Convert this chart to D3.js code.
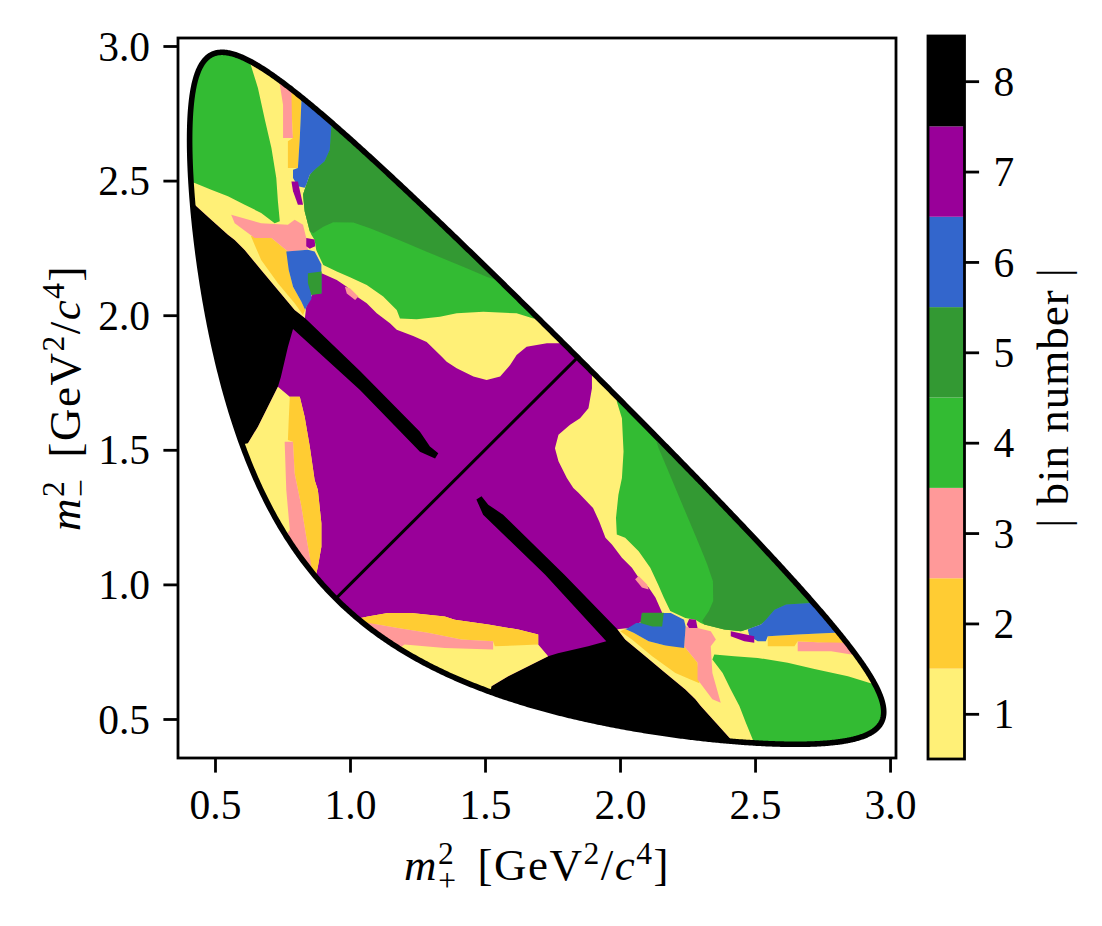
<!DOCTYPE html>
<html lang="en">
<head>
<meta charset="UTF-8">
<title>Dalitz plot binning</title>
<script src="https://d3js.org/d3.v7.min.js"></script>
<style>
  body { margin: 0; background: #fff; }
  text { font-family: "Liberation Serif", "Times New Roman", serif; fill: #000; }
</style>
</head>
<body>
<div id="chart"></div>
<script>
// masses used for the kinematic boundary (GeV/c^2)
const massD = 1.86484, massK = 0.497611, massPi = 0.13957;

// colours of |bin number| 1..8
const binColors = ["#fff077", "#ffcc33", "#ff9999", "#33bb33", "#339933", "#3366cc", "#990099", "#000000"];
const binTicks = [1, 2, 3, 4, 5, 6, 7, 8];
const xTicks = [0.5, 1.0, 1.5, 2.0, 2.5, 3.0];
const yTicks = [0.5, 1.0, 1.5, 2.0, 2.5, 3.0];

// bin regions of the half above the diagonal (m-^2 > m+^2), in GeV^2/c^4.
// the other half is the mirror image. painted in order, later ones on top.
const halfTriangle = [[0, 0], [0, 4], [4, 4]];
const blackRegion = [[0.30, 2.42], [0.425, 2.410], [0.486, 2.355], [0.548, 2.299], [0.573, 2.279], [0.610, 2.242],
  [0.671, 2.168], [0.733, 2.094], [0.795, 2.019], [0.833, 1.990], [1.037, 1.793], [1.259, 1.567], [1.296, 1.512],
  [1.327, 1.487], [1.315, 1.468], [1.259, 1.493], [1.037, 1.722], [0.789, 1.949], [0.770, 1.882], [0.744, 1.770],
  [0.733, 1.734], [0.696, 1.660], [0.659, 1.586], [0.622, 1.524], [0.58, 1.45], [0.30, 1.45]];
const yellowTop = [[2.0, 1.896], [1.778, 1.896], [1.729, 1.896], [1.654, 1.883], [1.617, 1.852], [1.593, 1.815],
  [1.556, 1.772], [1.506, 1.759], [1.457, 1.772], [1.395, 1.803], [1.358, 1.827], [1.340, 1.846], [1.284, 1.900],
  [1.234, 1.923], [1.173, 1.946], [1.148, 1.970], [1.099, 2.007], [1.062, 2.044], [1.025, 2.069], [0.988, 2.106],
  [0.951, 2.131], [0.895, 2.156], [0.857, 2.070], [0.838, 2.032], [0.833, 1.990], [0.795, 2.019], [0.733, 2.094],
  [0.671, 2.168], [0.610, 2.242], [0.573, 2.279], [0.548, 2.299], [0.486, 2.355], [0.425, 2.410], [0.30, 2.42],
  [0.30, 3.2], [2.0, 3.2]];
const yellowLow = [[0.733, 1.734], [0.777, 1.697], [0.814, 1.697], [0.832, 1.623], [0.851, 1.512], [0.869, 1.388],
  [0.881, 1.351], [0.894, 1.227], [0.894, 1.140], [0.881, 1.066], [0.874, 1.035], [0.80, 0.95], [0.50, 0.95],
  [0.50, 1.50], [0.622, 1.524], [0.659, 1.586], [0.696, 1.660]];
const orangeLow = [[0.777, 1.697], [0.814, 1.697], [0.832, 1.623], [0.851, 1.512], [0.869, 1.388], [0.881, 1.351],
  [0.894, 1.227], [0.894, 1.140], [0.881, 1.066], [0.874, 1.035], [0.84, 1.0], [0.851, 1.103], [0.838, 1.177],
  [0.820, 1.289], [0.795, 1.413], [0.789, 1.530], [0.770, 1.536], [0.773, 1.611]];
const pinkLow = [[0.758, 1.530], [0.789, 1.530], [0.795, 1.413], [0.820, 1.289], [0.838, 1.177], [0.851, 1.103],
  [0.859, 1.053], [0.80, 1.05], [0.74, 1.15], [0.777, 1.202], [0.764, 1.351]];
const greenCorner = [[0.333, 3.059], [0.593, 3.059], [0.634, 2.925], [0.659, 2.844], [0.686, 2.720], [0.709, 2.621],
  [0.727, 2.510], [0.733, 2.423], [0.740, 2.349], [0.721, 2.342], [0.671, 2.380], [0.610, 2.410], [0.548, 2.442],
  [0.486, 2.466], [0.425, 2.491], [0.333, 2.520]];
const pinkTop = [[0.726, 2.911], [0.789, 2.881], [0.785, 2.733], [0.789, 2.658], [0.752, 2.658], [0.752, 2.782], [0.740, 2.856]];
const orangeTop = [[0.789, 2.881], [0.826, 2.844], [0.820, 2.795], [0.814, 2.658], [0.807, 2.547], [0.770, 2.547],
  [0.770, 2.646], [0.789, 2.658], [0.785, 2.733], [0.783, 2.833]];
const greenBand = [[0.963, 2.948], [0.931, 2.702], [0.838, 2.485], [0.826, 2.448], [0.832, 2.386], [0.851, 2.312],
  [0.857, 2.299], [0.869, 2.279], [0.875, 2.242], [0.901, 2.186], [0.951, 2.162], [1.0, 2.141], [1.062, 2.112],
  [1.123, 2.069], [1.173, 2.019], [1.185, 1.988], [1.247, 1.985], [1.333, 1.994], [1.395, 2.007], [1.494, 2.013],
  [1.617, 2.007], [1.679, 1.988], [1.80, 2.0], [1.80, 2.95]];
const darkGreen = [[0.931, 2.702], [0.925, 2.615], [0.906, 2.572], [0.869, 2.540], [0.851, 2.522], [0.838, 2.485],
  [0.826, 2.448], [0.832, 2.386], [0.851, 2.312], [0.864, 2.304], [0.901, 2.329], [0.938, 2.345], [1.012, 2.344],
  [1.074, 2.323], [1.136, 2.298], [1.210, 2.267], [1.284, 2.236], [1.358, 2.205], [1.432, 2.174], [1.506, 2.143],
  [1.543, 2.131], [1.60, 2.11], [1.778, 2.120], [1.778, 2.948], [0.963, 2.948]];
const blueTop = [[0.815, 2.844], [0.963, 2.755], [0.931, 2.702], [0.925, 2.615], [0.906, 2.572], [0.869, 2.540],
  [0.851, 2.522], [0.838, 2.485], [0.832, 2.473], [0.807, 2.479], [0.789, 2.510], [0.789, 2.540], [0.807, 2.547],
  [0.814, 2.658], [0.820, 2.795]];
const purpleSpeckTop = [[0.783, 2.497], [0.807, 2.497], [0.826, 2.410], [0.807, 2.410], [0.789, 2.460]];
const orangeMid = [[0.633, 2.294], [0.709, 2.287], [0.770, 2.237], [0.773, 2.168], [0.789, 2.106], [0.820, 2.050],
  [0.834, 2.019], [0.826, 2.001], [0.795, 2.044], [0.733, 2.119], [0.671, 2.205], [0.647, 2.261]];
const pinkMid = [[0.560, 2.373], [0.671, 2.342], [0.770, 2.336], [0.795, 2.355], [0.826, 2.336], [0.838, 2.287],
  [0.844, 2.243], [0.770, 2.237], [0.709, 2.287], [0.647, 2.287], [0.573, 2.342]];
const blueMid = [[0.764, 2.237], [0.844, 2.243], [0.869, 2.237], [0.894, 2.188], [0.894, 2.081], [0.857, 2.077],
  [0.857, 2.060], [0.838, 2.030], [0.834, 2.019], [0.820, 2.050], [0.789, 2.106], [0.773, 2.168]];
const darkGreenBlob = [[0.844, 2.156], [0.895, 2.162], [0.895, 2.081], [0.857, 2.075], [0.844, 2.120]];
const purpleSpeckMid = [[0.838, 2.287], [0.869, 2.281], [0.871, 2.256], [0.851, 2.247], [0.838, 2.256]];
const pinkBlob = [[0.981, 2.106], [1.0, 2.100], [1.031, 2.069], [1.019, 2.056], [0.988, 2.081]];

const layers = [
  { bin: 7, pts: halfTriangle }, { bin: 8, pts: blackRegion }, { bin: 1, pts: yellowTop },
  { bin: 1, pts: yellowLow }, { bin: 2, pts: orangeLow }, { bin: 3, pts: pinkLow },
  { bin: 4, pts: greenCorner }, { bin: 3, pts: pinkTop }, { bin: 2, pts: orangeTop },
  { bin: 4, pts: greenBand }, { bin: 5, pts: darkGreen }, { bin: 6, pts: blueTop },
  { bin: 7, pts: purpleSpeckTop }, { bin: 2, pts: orangeMid }, { bin: 3, pts: pinkMid },
  { bin: 6, pts: blueMid }, { bin: 5, pts: darkGreenBlob }, { bin: 7, pts: purpleSpeckMid },
  { bin: 3, pts: pinkBlob }
];

// kinematic limits of D0 -> KS pi+ pi-
function dalitzEdge(n) {
  const M2 = massD * massD, k2 = massK * massK, p2 = massPi * massPi;
  const sMin = (massK + massPi) ** 2, sMax = (massD - massPi) ** 2;
  const upper = [], lower = [];
  for (let i = 0; i <= n; i++) {
    const s = sMin + (sMax - sMin) * (1 - Math.cos(Math.PI * i / n)) / 2;
    const rs = Math.sqrt(s);
    const eK = (s - p2 + k2) / (2 * rs), ePi = (M2 - s - p2) / (2 * rs);
    const qK = Math.sqrt(Math.max(0, eK * eK - k2)), qPi = Math.sqrt(Math.max(0, ePi * ePi - p2));
    const e = (eK + ePi) ** 2;
    upper.push([s, e - (qK - qPi) ** 2]);
    lower.push([s, e - (qK + qPi) ** 2]);
  }
  return upper.concat(lower.reverse());
}

const W = 1102, H = 926;
const fontSize = 41.5, titleSize = 45, smallSize = 31.5;
const plotL = 178, plotR = 896, plotT = 38, plotB = 758;

const x = d3.scaleLinear().domain([0.363, 3.022]).range([plotL, plotR]);
const y = d3.scaleLinear().domain([0.3551, 3.0297]).range([plotB, plotT]);
const cb = d3.scaleLinear().domain([0.5, 8.5]).range([759, 36]);

const svg = d3.select("#chart").append("svg")
  .attr("width", W).attr("height", H)
  .style("background", "#fff");

const line = d3.line().x(d => x(d[0])).y(d => y(d[1])).curve(d3.curveLinearClosed);
const swap = pts => pts.map(d => [d[1], d[0]]);

const edge = dalitzEdge(600);
const defs = svg.append("defs");
defs.append("clipPath").attr("id", "dalitz").append("path").attr("d", line(edge));
defs.append("clipPath").attr("id", "upper").append("path").attr("d", line(halfTriangle));
defs.append("clipPath").attr("id", "lower").append("path").attr("d", line(swap(halfTriangle)));

const plot = svg.append("g").attr("clip-path", "url(#dalitz)");

const upperHalf = plot.append("g").attr("clip-path", "url(#upper)");
upperHalf.selectAll("path")
  .data(layers)
  .enter().append("path")
  .attr("d", d => line(d.pts))
  .attr("fill", d => binColors[d.bin - 1]);

const lowerHalf = plot.append("g").attr("clip-path", "url(#lower)");
lowerHalf.selectAll("path")
  .data(layers)
  .enter().append("path")
  .attr("d", d => line(swap(d.pts)))
  .attr("fill", d => binColors[d.bin - 1]);

// diagonal m+^2 = m-^2
plot.append("line")
  .attr("x1", x(0.9)).attr("y1", y(0.9))
  .attr("x2", x(1.9)).attr("y2", y(1.9))
  .attr("stroke", "#000").attr("stroke-width", 3);

svg.append("path")
  .attr("d", line(edge))
  .attr("fill", "none")
  .attr("stroke", "#000")
  .attr("stroke-width", 5.6);

// frame and axes
svg.append("rect")
  .attr("x", plotL).attr("y", plotT)
  .attr("width", plotR - plotL).attr("height", plotB - plotT)
  .attr("fill", "none").attr("stroke", "#000").attr("stroke-width", 2.8);

const fmt = d3.format(".1f");
const xAxis = svg.append("g")
  .attr("transform", `translate(0,${plotB})`)
  .call(d3.axisBottom(x).tickValues(xTicks).tickFormat(fmt).tickSize(14.6));
xAxis.select(".domain").remove();
xAxis.selectAll("line").attr("stroke-width", 2.8);
xAxis.selectAll("text")
  .attr("y", 61).attr("dy", 0)
  .style("font-family", "'Liberation Serif', serif")
  .style("font-size", fontSize + "px");

const yAxis = svg.append("g")
  .attr("transform", `translate(${plotL},0)`)
  .call(d3.axisLeft(y).tickValues(yTicks).tickFormat(fmt).tickSize(14.6));
yAxis.select(".domain").remove();
yAxis.selectAll("line").attr("stroke-width", 2.8);
yAxis.selectAll("text")
  .attr("x", -28).attr("dy", "0.34em")
  .style("font-family", "'Liberation Serif', serif")
  .style("font-size", fontSize + "px");

// axis titles
function massLabel(text, sign) {
  text.attr("font-size", titleSize).attr("text-anchor", "middle").style("letter-spacing", "1.5px");
  text.append("tspan").attr("font-style", "italic").text("m");
  text.append("tspan").attr("font-size", smallSize).attr("dy", -16).text("2");
  text.append("tspan").attr("font-size", smallSize).attr("dx", -17).attr("dy", 27).text(sign);
  text.append("tspan").attr("dx", 20).attr("dy", -11).text("[GeV");
  text.append("tspan").attr("font-size", smallSize).attr("dy", -16).text("2");
  text.append("tspan").attr("dy", 16).text("/");
  text.append("tspan").attr("font-style", "italic").text("c");
  text.append("tspan").attr("font-size", smallSize).attr("dy", -16).text("4");
  text.append("tspan").attr("dy", 16).text("]");
}

svg.append("text")
  .attr("transform", `translate(${(plotL + plotR) / 2},880)`)
  .call(massLabel, "+");

svg.append("text")
  .attr("transform", `translate(80,${(plotT + plotB) / 2}) rotate(-90)`)
  .call(massLabel, "\u2212");

// colour bar
const cbX = 928, cbW = 36.5;
const cbar = svg.append("g");
cbar.selectAll("rect.bin")
  .data(binTicks)
  .enter().append("rect")
  .attr("class", "bin")
  .attr("x", cbX)
  .attr("y", d => cb(d + 0.5))
  .attr("width", cbW)
  .attr("height", d => cb(d - 0.5) - cb(d + 0.5))
  .attr("fill", d => binColors[d - 1]);
cbar.append("rect")
  .attr("x", cbX).attr("y", cb(8.5))
  .attr("width", cbW).attr("height", cb(0.5) - cb(8.5))
  .attr("fill", "none").attr("stroke", "#000").attr("stroke-width", 2.8);

const cAxis = svg.append("g")
  .attr("transform", `translate(${cbX + cbW},0)`)
  .call(d3.axisRight(cb).tickValues(binTicks).tickFormat(d3.format("d")).tickSize(14.6));
cAxis.select(".domain").remove();
cAxis.selectAll("line").attr("stroke-width", 2.8);
cAxis.selectAll("text")
  .attr("x", 29).attr("dy", "0.34em")
  .style("font-family", "'Liberation Serif', serif")
  .style("font-size", fontSize + "px");

svg.append("text")
  .attr("transform", `translate(1068,${(cb(0.5) + cb(8.5)) / 2}) rotate(-90)`)
  .attr("text-anchor", "middle")
  .attr("font-size", titleSize)
  .style("letter-spacing", "1px")
  .text("| bin number |");
</script>
</body>
</html>
